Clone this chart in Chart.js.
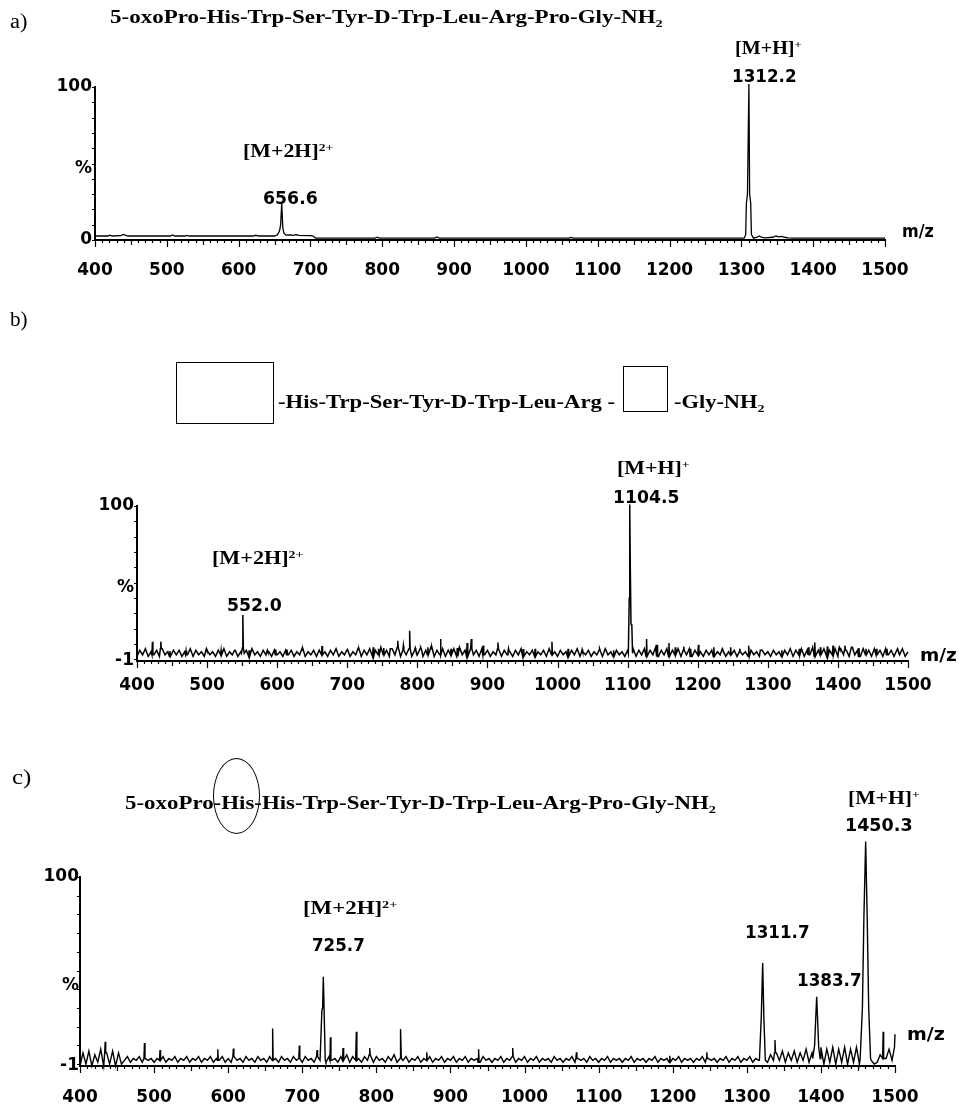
<!DOCTYPE html>
<html>
<head>
<meta charset="utf-8">
<script src="https://cdn.jsdelivr.net/npm/chart.js@4.4.1/dist/chart.umd.min.js"></script>
<style>
html, body { margin: 0; padding: 0; background: #fff; }
#stage { position: relative; width: 959px; height: 1104px; overflow: hidden; }
#stage canvas { position: absolute; left: 0; top: 0; }
.txt { position: absolute; white-space: nowrap; line-height: 1; transform-origin: 0 50%; color: #000; }
.serif { font-family: "Liberation Serif", "Times New Roman", serif; font-weight: bold; font-size: 18px; }
.plain { font-family: "Liberation Serif", "Times New Roman", serif; font-size: 20px; }
.sans { font-family: "DejaVu Sans", sans-serif; font-weight: bold; font-size: 17px; }
.sub { font-size: 0.62em; position: relative; top: 0.35em; }
.sup { font-size: 0.62em; position: relative; top: -0.5em; }
.box { position: absolute; border: 1px solid #000; box-sizing: border-box; }
.oval { position: absolute; border: 1.3px solid #000; border-radius: 50%; box-sizing: border-box; }
</style>
</head>
<body>
<div id="stage">
  <canvas id="chartA" width="959" height="1104"></canvas>
  <canvas id="chartB" width="959" height="1104"></canvas>
  <canvas id="chartC" width="959" height="1104"></canvas>
</div>
<script>
// ---- data (m/z, relative intensity %) ----
const xTicks = [400, 500, 600, 700, 800, 900, 1000, 1100, 1200, 1300, 1400, 1500];

// a) native peptide, smooth trace
const spectrumA = [
  [400,2.6],[418,2.6],[421,3.2],[424,2.6],[436,2.8],[439,3.6],[442,3.2],[446,2.6],[505,2.6],[508,3.3],[511,2.6],
  [525,2.6],[528,3],[531,2.6],[620,2.6],[624,3.1],[628,2.6],[650,2.6],[654,3.4],[657,6],[658.5,10],[660,24],
  [661.5,8],[663,4.5],[666,3.2],[672,3.4],[676,3],[680,3.5],[684,3],[700,2.8],[704,2.6],[707,1.2],[790,1.2],
  [793,1.8],[796,1.2],[873,1.2],[876,2],[879,1.2],[1060,1.2],[1063,1.7],[1066,1.2],[1304,1.2],[1306,3.5],
  [1307,24],[1308.5,30],[1310.5,102],[1311.5,30],[1313,24],[1314,3.5],[1317,1.2],[1322,1.8],[1325,2.6],
  [1328,1.8],[1332,1.4],[1344,1.8],[1348,2.6],[1352,2],[1356,2.4],[1360,1.8],[1365,1.4],[1372,1.2],[1500,1.2]
];
const yLabelsA = [[0, '0'], [47, '%'], [100, '100']];

// b) baseline sampled every 4 m/z from 400 to 1500
const noiseStartB = 400, noiseStepB = 4;
const noiseB = [
  2,6,3,7,2, 5,3,6,2,7, 3,5,2,6,3, 6,2,5,3,7, 2,6,3,5,2,
  6,3,5,2,6, 3,7,2,5,3, 6,2,5,3,6, 2,7,3,5,2, 6,3,5,2,6,
  3,5,2,6,3, 6,2,5,3,7, 2,5,3,6,2, 6,3,5,2,6, 3,7,2,5,3,
  6,2,5,3,7, 2,6,3,7,2, 6,3,8,3,6, 2,7,3,8,2, 6,3,7,2,6,
  3,7,2,6,3, 8,2,6,3,7, 2,6,3,7,2, 8,3,6,2,7, 3,6,2,7,3,
  6,2,5,3,7, 2,6,3,5,2, 6,3,7,2,5, 3,6,2,5,3, 6,2,7,3,5,
  2,6,3,5,2, 6,3,7,2,5, 3,6,2,5,3, 6,2,7,3,5, 2,6,3,5,2,
  6,3,7,2,6, 3,7,2,6,3, 8,2,6,3,7, 2,6,3,7,2, 6,3,7,2,6,
  3,5,2,6,3, 6,2,5,3,6, 2,5,3,6,2, 5,3,5,2,6, 3,5,2,6,3,
  5,2,6,3,5, 2,6,3,7,2, 6,3,7,2,6, 3,8,2,6,3, 7,2,6,3,7,
  2,7,3,6,2, 8,3,6,2,7, 3,6,2,7,3, 6,2,7,3,6, 2,6,3,7,2,
  5
];
const spikesB = [
  [422,11.6],[434,11.6],[447,5.5],[470,5.5],[499,7],[520,6],[540,6],[560,6],[586,6],[598,6.5],[614,6.5],
  [636,6],[664,8.7],[700,6.5],[716,6.5],[737,8],[745,7],[752,7.5],[762,7],[772,12.2],[780,9],[789,18.7],
  [797,7.5],[805,8],[815,8],[820,7],[833,13.3],[848,7],[857,7.5],[871,10.7],[877,13.3],[894,9],[915,11],
  [930,7],[951,6.8],[968,7],[992,11.6],[1015,7],[1035,6.5],[1060,7],[1080,6],[1127,13.3],[1142,9.5],
  [1159,10.7],[1168,8],[1180,8.3],[1190,7],[1201,9.5],[1223,8],[1235,7],[1247,8],[1260,7],[1273,9],
  [1290,6],[1320,6],[1345,7],[1358,8],[1367,11],[1375,8],[1385,8.5],[1393,9],[1402,8],[1410,9],[1420,8],
  [1430,7.5],[1440,7],[1455,7],[1470,7],[1485,7]
];
const peaksB = [
  [[549,4],[550.3,7.5],[551,29],[551.7,7.5],[553,4]],
  [[1101,4],[1102.3,40],[1103,101],[1103.8,60],[1104.8,23],[1106,22],[1107,4]]
];
const yLabelsB = [[-1, '-1'], [47, '%'], [100, '100']];

// c) His-inserted peptide, baseline sampled every 4 m/z from 400 to 1508
const noiseStartC = 400, noiseStepC = 4;
const noiseC = [
  -1,6,0,7,-1, 5,1,8,-1,6, 0,7,-1,6,0, 2,4,1,3,2, 4,1,3,2,3,
  1,3,2,4,1, 3,2,4,1,3, 2,4,1,3,2, 4,1,3,2,4, 1,3,2,4,1,
  3,1,4,2,3, 1,4,2,3,1, 4,2,3,1,4, 2,3,1,4,2, 3,1,4,2,3,
  1,4,2,3,1, 4,2,5,1,4, 2,3,1,4,2, 5,1,4,2,3, 1,4,2,5,1,
  4,2,3,1,4, 2,5,1,3,2, 4,1,3,2,4, 1,3,2,4,1, 3,2,4,1,3,
  2,4,1,3,2, 4,1,3,2,3, 1,4,2,3,1, 3,2,4,1,3, 2,4,1,3,2,
  4,1,3,2,4, 1,3,2,3,1, 4,2,3,1,3, 2,4,1,3,2, 3,1,4,2,3,
  1,3,2,4,1, 3,2,3,1,3, 2,4,1,3,2, 3,1,3,2,4, 1,3,2,3,1,
  3,2,4,1,3, 2,3,1,3,2, 4,1,3,2,3, 1,3,2,4,1, 3,2,4,1,3,
  2,4,1,3,2, 4,1,1,5,2, 6,2,7,1,6, 2,7,1,6,2, 8,1,6,3,4,
  9,0,8,1,9, 0,8,1,9,0, 8,1,9,0,3, 3,3,2,0,1, 5,3,3,8,2,
  9,3,8
];
const spikesC = [
  [434,12],[487,11.3],[508,7.5],[586,8],[607,8.3],[660,19.1],[696,9.9],[720,7.5],[738,14.3],[755,8.6],
  [773,17.3],[791,8.6],[833,18.8],[868,6.3],[938,8],[984,8.6],[1070,6.3],[1196,4.5],[1246,6.3],
  [1338,12.9],[1484,17.3],[1500,16]
];
const peaksC = [
  [[725,2],[726.5,29],[727.5,30],[728.4,46.7],[729.5,28],[731,2]],
  [[1317,2],[1319.5,25],[1321.4,54],[1323,25],[1325,2]],
  [[1389,3],[1391.5,10],[1393,24.5],[1394.3,36],[1395.5,24],[1397,9],[1399,3]],
  [[1453,3],[1456,30],[1458,78],[1460.4,119],[1462.5,78],[1464.5,30],[1467,3]]
];
const yLabelsC = [[-1, '-1'], [42, '%'], [100, '100']];

// ---- build traces ----
function buildTrace(start, step, noise, spikes, peaks) {
  let pts = noise.map((v, i) => ({ x: start + i * step, y: v }));
  const shapes = peaks.slice();
  spikes.forEach(([mz, h]) => {
    const base = noise[Math.round((mz - start) / step)];
    shapes.push([[mz - 0.7, base], [mz, h], [mz + 0.7, base]]);
  });
  const spans = shapes.map(p => [p[0][0], p[p.length - 1][0]]);
  pts = pts.filter(p => !spans.some(s => p.x >= s[0] && p.x <= s[1]));
  shapes.forEach(p => p.forEach(([x, y]) => pts.push({ x, y })));
  return pts.sort((a, b) => a.x - b.x);
}

const traceA = spectrumA.map(([x, y]) => ({ x, y }));
const traceB = buildTrace(noiseStartB, noiseStepB, noiseB, spikesB, peaksB);
const traceC = buildTrace(noiseStartC, noiseStepC, noiseC, spikesC, peaksC);

// ---- small tick marks along both axes ----
const tickMarks = {
  id: 'tickMarks',
  afterDraw(chart) {
    const { ctx, chartArea, scales: { x, y } } = chart;
    ctx.save();
    ctx.strokeStyle = '#000';
    ctx.lineWidth = 1.2;
    ctx.beginPath();
    for (let i = 0; i <= 110; i++) {
      const v = 400 + i * 10;
      const px = Math.round(x.getPixelForValue(v)) + 0.5;
      const len = v % 100 === 0 ? 7 : (v % 50 === 0 ? 5 : 3);
      ctx.moveTo(px, chartArea.bottom);
      ctx.lineTo(px, chartArea.bottom + len);
    }
    for (let i = 0; i <= 10; i++) {
      const py = Math.round(y.getPixelForValue(i * 10)) + 0.5;
      ctx.moveTo(chartArea.left, py);
      ctx.lineTo(chartArea.left - 3, py);
    }
    ctx.stroke();
    ctx.restore();
  }
};

const tickFont = { family: 'DejaVu Sans', weight: 'bold', size: 17 };

function makeChart(id, trace, o) {
  return new Chart(document.getElementById(id), {
    type: 'line',
    data: {
      datasets: [{
        data: trace, borderColor: '#000', borderWidth: o.lw, pointRadius: 0,
        tension: 0, fill: false, clip: false
      }]
    },
    options: {
      responsive: false, animation: false, events: [],
      layout: { padding: { left: 0, top: o.top, right: 959 - o.right, bottom: 0 } },
      plugins: { legend: { display: false }, tooltip: { enabled: false } },
      scales: {
        x: {
          type: 'linear', min: 400, max: 1500,
          afterFit: s => { s.height = 1104 - o.bottom; },
          afterBuildTicks: s => { s.ticks = xTicks.map(v => ({ value: v })); },
          grid: { display: false, drawTicks: false },
          border: { display: true, color: '#000', width: 2 },
          ticks: { autoSkip: false, maxRotation: 0, padding: o.xPad, color: '#000', font: tickFont,
                   callback: v => String(v) }
        },
        y: {
          type: 'linear', min: o.ymin, max: 100,
          afterFit: s => { s.width = o.left; },
          afterBuildTicks: s => { s.ticks = o.yLabels.map(p => ({ value: p[0] })); },
          grid: { display: false, drawTicks: false },
          border: { display: true, color: '#000', width: 2 },
          ticks: { padding: o.yPad, color: '#000', font: tickFont,
                   callback: v => { const f = o.yLabels.find(p => p[0] === v); return f ? f[1] : ''; } }
        }
      }
    },
    plugins: [tickMarks]
  });
}

makeChart('chartA', traceA, { left: 95, right: 885, top: 87, bottom: 240, ymin: 0, yLabels: yLabelsA, xPad: 20, yPad: 3, lw: 1.3 });
makeChart('chartB', traceB, { left: 137, right: 908, top: 506, bottom: 661, ymin: -1, yLabels: yLabelsB, xPad: 14, yPad: 3, lw: 1.5 });
makeChart('chartC', traceC, { left: 80, right: 895, top: 877, bottom: 1066, ymin: -1, yLabels: yLabelsC, xPad: 21, yPad: 1, lw: 1.4 });

// ---- text, boxes and the oval ----
const stage = document.getElementById('stage');
function place(html, left, right, cy, cls) {
  const d = document.createElement('div');
  d.className = 'txt ' + cls;
  d.innerHTML = html;
  stage.appendChild(d);
  const w = d.offsetWidth, h = d.offsetHeight;
  d.style.left = left + 'px';
  d.style.top = (cy - h / 2) + 'px';
  d.style.transform = 'scaleX(' + ((right - left) / w).toFixed(3) + ')';
}
function shape(cls, left, top, w, h) {
  const d = document.createElement('div');
  d.className = cls;
  Object.assign(d.style, { left: left + 'px', top: top + 'px', width: w + 'px', height: h + 'px' });
  stage.appendChild(d);
}

const mh2 = '[M+2H]<span class="sup">2+</span>';
const mh = '[M+H]<span class="sup">+</span>';
const nh2 = 'NH<span class="sub">2</span>';

// a
place('a)', 10, 28, 21, 'plain');
place('5-oxoPro-His-Trp-Ser-Tyr-D-Trp-Leu-Arg-Pro-Gly-' + nh2, 110, 662, 17, 'serif');
place(mh2, 243, 333, 151, 'serif');
place('656.6', 263, 318, 198, 'sans');
place(mh, 735, 802, 48, 'serif');
place('1312.2', 732, 797, 76, 'sans');
place('m/z', 902, 934, 231, 'sans');

// b
place('b)', 10, 28, 319, 'plain');
shape('box', 176, 362, 98, 62);
place('-His-Trp-Ser-Tyr-D-Trp-Leu-Arg -', 278, 615, 402, 'serif');
shape('box', 623, 366, 45, 46);
place('-Gly-' + nh2, 674, 765, 402, 'serif');
place(mh2, 212, 303, 558, 'serif');
place('552.0', 227, 282, 605, 'sans');
place(mh, 617, 690, 468, 'serif');
place('1104.5', 613, 680, 497, 'sans');
place('m/z', 920, 957, 655, 'sans');

// c
place('c)', 12, 32, 777, 'plain');
place('5-oxoPro-His-His-Trp-Ser-Tyr-D-Trp-Leu-Arg-Pro-Gly-' + nh2, 125, 715, 803, 'serif');
shape('oval', 213, 758, 47, 76);
place(mh2, 303, 397, 908, 'serif');
place('725.7', 312, 365, 945, 'sans');
place('1311.7', 745, 810, 932, 'sans');
place('1383.7', 797, 862, 980, 'sans');
place(mh, 848, 920, 798, 'serif');
place('1450.3', 845, 913, 825, 'sans');
place('m/z', 907, 945, 1034, 'sans');
</script>
</body>
</html>
